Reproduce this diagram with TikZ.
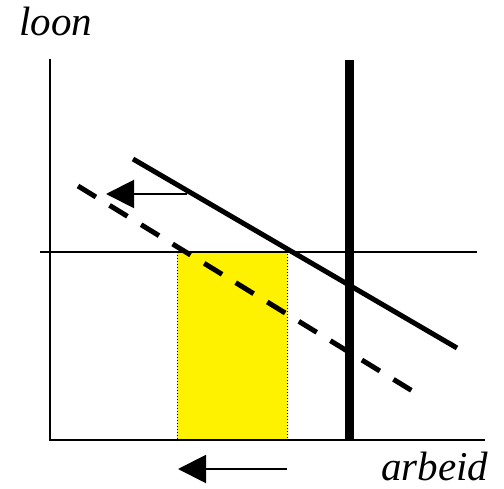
\documentclass[tikz,border=0pt]{standalone}
\usepackage{fontspec}
\setmainfont{Liberation Serif}
\usetikzlibrary{arrows.meta}
\tikzset{
    axislabel/.style={inner sep=0pt, anchor=base west, font=\fontsize{41}{41}\selectfont\itshape},
    shiftarrow/.style={line width=2pt, -{Triangle[length=28pt, width=28pt]}}
}
\begin{document}
\begin{tikzpicture}[x=1pt, y=-1pt]
    \useasboundingbox (0,0) rectangle (504,489);
    % werkgelegenheid
    \fill[yellow] (177,252) rectangle (287,440);
    \draw[dotted, line width=1pt] (177,252) rectangle (287,440);
    % assen
    \draw[line width=2pt] (50,59) -- (50,440) -- (485,440);
    \node[axislabel] (loon) at (19,36) {loon};
    \node[axislabel] (arbeid) at (381,480) {arbeid};
    % minimumloon en aanbod
    \draw[line width=2pt] (40,252) -- (477,252);
    \draw[line width=9pt] (349,60) -- (349,440);
    % vraag
    \draw[line width=5pt] (133,159) -- (457,348);
    \draw[line width=5pt, dash pattern=on 21pt off 16pt] (78,186) -- (419,395);
    % verschuivingen
    \coordinate (v1) at (187,194);
    \coordinate (v2) at (106,194);
    \coordinate (a1) at (287,469);
    \coordinate (a2) at (178,469);
    \draw[shiftarrow] (v1) -- (v2);
    \draw[shiftarrow] (a1) -- (a2);
\end{tikzpicture}
\end{document}
